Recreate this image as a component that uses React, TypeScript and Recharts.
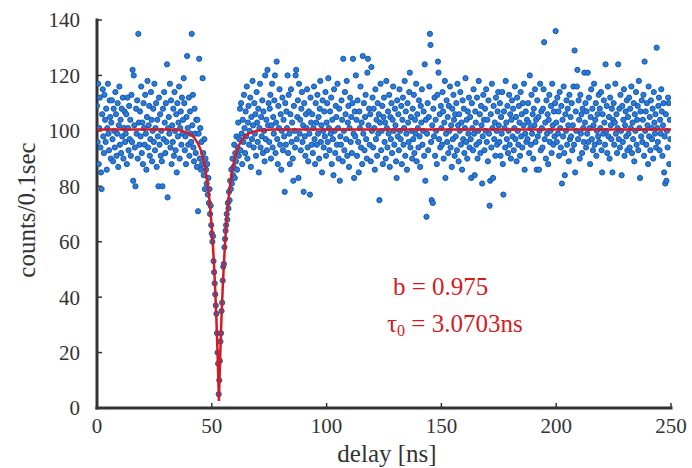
import React from "react";
import { ScatterChart, Scatter, XAxis, YAxis } from "recharts";

// measured counts, one bin every 0.25 ns starting at 0 ns
const DELAY_STEP = 0.25;
const COUNTS: number[] = [
  109, 96, 117, 88, 101, 112, 94, 85, 79, 106, 115, 98, 92, 113, 104, 96, 108, 86, 101, 117, 99, 93, 111, 105, 90,
  103, 111, 97, 89, 108, 100, 94, 114, 106, 91, 99, 110, 87, 102, 116, 95, 104, 92, 108, 98, 112, 90, 101, 107, 96,
  99, 106, 88, 112, 101, 93, 109, 97, 104, 91, 113, 96, 122, 82, 120, 102, 94, 80, 108, 99, 111, 90, 135, 103, 95,
  107, 98, 116, 92, 103, 88, 110, 101, 95, 113, 99, 86, 105, 118, 94, 102, 109, 91, 97, 114, 104, 89, 100, 108, 96,
  117, 93, 101, 110, 87, 104, 98, 80, 112, 95, 106, 91, 100, 89, 80, 108, 97, 114, 103, 92, 110, 96, 124, 76, 101,
  105, 99, 117, 94, 111, 88, 102, 96, 108, 91, 114, 100, 93, 106, 85, 110, 98, 103, 116, 90, 101, 107, 95, 112, 99,
  104, 119, 110, 93, 98, 88, 105, 127, 101, 95, 112, 91, 107, 99, 96, 135, 102, 113, 94, 89, 108, 99, 92, 104, 87,
  104, 71, 99, 126, 90, 101, 86, 96, 88, 119, 92, 84, 97, 79, 90, 86, 81, 88, 77, 83, 74, 79, 70, 73, 66,
  63, 60, 62, 53, 49, 45, 41, 37, 34, 27, 20, 16, 5, 10, 17, 24, 27, 35, 38, 46, 51, 52, 58, 61, 64,
  66, 70, 68, 74, 72, 78, 75, 82, 79, 86, 81, 90, 84, 87, 95, 83, 92, 89, 98, 86, 94, 103, 91, 97, 108,
  93, 110, 99, 88, 104, 96, 113, 101, 92, 107, 98, 116, 90, 103, 109, 95, 100, 112, 87, 105, 97, 118, 102, 94, 110,
  99, 106, 91, 114, 103, 96, 108, 85, 101, 117, 94, 105, 98, 111, 92, 107, 100, 89, 120, 97, 104, 93, 122, 102, 110,
  96, 108, 113, 90, 102, 117, 94, 105, 99, 111, 120, 92, 103, 125, 97, 88, 109, 101, 115, 95, 106, 86, 100, 112, 93,
  104, 98, 78, 110, 95, 107, 101, 120, 92, 113, 99, 88, 106, 115, 96, 103, 90, 82, 109, 100, 94, 120, 122, 97, 105,
  111, 83, 117, 99, 104, 93, 108, 114, 96, 102, 78, 110, 98, 91, 106, 101, 115, 94, 89, 107, 99, 77, 112, 103, 95,
  106, 92, 101, 116, 97, 88, 110, 103, 95, 113, 99, 105, 90, 108, 118, 96, 102, 85, 111, 100, 94, 107, 98, 114, 91,
  103, 110, 96, 119, 101, 93, 107, 99, 112, 88, 104, 97, 84, 115, 100, 92, 109, 105, 95, 117, 101, 90, 108, 82, 98,
  95, 111, 104, 89, 126, 100, 93, 114, 106, 97, 118, 91, 103, 109, 87, 101, 112, 96, 105, 92, 110, 126, 99, 83, 107,
  98, 120, 104, 91, 111, 96, 85, 107, 101, 116, 94, 103, 88, 127, 99, 110, 93, 105, 113, 97, 90, 121, 126, 102, 108,
  95, 106, 89, 123, 100, 112, 94, 108, 101, 86, 115, 97, 104, 91, 110, 99, 106, 75, 103, 117, 93, 100, 109, 88, 105,
  112, 96, 103, 90, 118, 101, 94, 107, 99, 113, 87, 105, 97, 110, 92, 104, 116, 100, 95, 108, 102, 89, 83, 111, 98,
  106, 93, 115, 100, 97, 109, 88, 104, 112, 95, 101, 118, 91, 107, 99, 86, 110, 103, 96, 114, 121, 94, 105, 100, 90,
  108, 97, 113, 92, 104, 99, 117, 89, 106, 101, 94, 111, 98, 87, 109, 103, 115, 95, 100, 107, 91, 124, 82, 104, 69,
  99, 110, 93, 105, 116, 135, 131, 96, 75, 102, 74, 108, 98, 112, 91, 104, 100, 88, 113, 125, 121, 97, 106, 94, 109,
  101, 95, 114, 107, 90, 103, 118, 83, 99, 111, 96, 105, 92, 109, 100, 116, 94, 102, 87, 108, 97, 113, 104, 91, 106,
  98, 110, 93, 117, 102, 89, 106, 100, 114, 95, 103, 86, 111, 97, 108, 92, 101, 119, 96, 104, 90, 107, 99, 112, 94,
  105, 97, 83, 110, 101, 93, 115, 99, 84, 107, 103, 95, 112, 90, 100, 118, 96, 106, 92, 109, 102, 81, 98, 113, 104,
  93, 108, 100, 115, 96, 104, 89, 111, 99, 73, 82, 106, 94, 117, 101, 83, 109, 97, 103, 91, 112, 100, 95, 107, 114,
  102, 96, 110, 91, 105, 99, 114, 88, 77, 107, 101, 94, 118, 103, 97, 109, 92, 100, 113, 95, 106, 90, 104, 111, 98,
  108, 93, 101, 116, 97, 105, 89, 112, 100, 95, 109, 103, 91, 114, 98, 106, 94, 110, 102, 117, 86, 99, 107, 96, 104,
  97, 110, 103, 92, 120, 101, 95, 113, 99, 106, 90, 108, 102, 115, 96, 104, 86, 111, 98, 105, 86, 100, 117, 93, 107,
  101, 94, 108, 115, 132, 97, 103, 90, 111, 99, 106, 88, 104, 113, 96, 100, 109, 92, 117, 102, 95, 107, 98, 110, 136,
  103, 96, 112, 99, 107, 91, 114, 101, 94, 109, 81, 104, 98, 116, 92, 84, 106, 100, 111, 95, 108, 102, 89, 113, 97,
  105, 98, 110, 93, 102, 116, 95, 129, 85, 107, 100, 116, 122, 97, 111, 104, 90, 113, 99, 106, 92, 108, 101, 96, 121,
  103, 110, 94, 107, 99, 121, 96, 112, 101, 88, 105, 115, 97, 108, 93, 102, 117, 95, 104, 110, 91, 100, 106, 98, 113,
  96, 108, 101, 114, 93, 85, 106, 99, 111, 103, 95, 124, 100, 109, 92, 116, 98, 105, 90, 112, 102, 97, 108, 85, 104,
  110, 95, 103, 117, 99, 106, 92, 101, 124, 97, 108, 94, 113, 100, 84, 109, 96, 104, 115, 91, 102, 107, 98, 111, 93,
  105, 99, 112, 94, 108, 101, 116, 92, 103, 97, 110, 89, 106, 100, 114, 95, 104, 109, 93, 118, 101, 83, 107, 98, 111,
  96, 104, 113, 91, 125, 100, 107, 95, 110, 102, 88, 116, 98, 105, 93, 111, 101, 97, 108, 90, 114, 103, 99, 106, 94,
  130, 101, 96, 109, 112, 93, 104, 99, 115, 107, 91, 102, 110, 85, 98, 81, 106, 82, 100, 94, 112, 110, 88, 104, 97,
];

// fitted curve
const FIT_DELAY = [
  0, 30, 36, 40, 42, 44, 45, 46, 47, 48, 48.5, 49, 49.5, 50, 50.5, 51, 51.5, 52, 52.5, 52.8,
  53.1, 53.4, 53.7, 54.2, 54.7, 55.2, 55.7, 56.2, 56.7, 57.2, 57.7, 58.2, 59.2, 60.2, 61.2,
  62.2, 64.2, 66.2, 70, 76, 250,
];
const FIT_COUNTS = [
  100.5, 100.5, 100.3, 99.1, 97.9, 95.4, 93.5, 90.8, 87.1, 81.9, 78.6, 74.8, 70.2, 64.8, 58.5,
  51.0, 42.3, 32.0, 19.9, 11.6, 2.5, 11.6, 19.9, 32.0, 42.3, 51.0, 58.5, 64.8, 70.2, 74.8,
  78.6, 81.9, 87.1, 90.8, 93.5, 95.4, 97.9, 99.1, 100.1, 100.5, 100.5,
];

const X_TICKS = [0, 50, 100, 150, 200, 250];
const Y_TICKS = [0, 20, 40, 60, 80, 100, 120, 140];

const points = COUNTS.map((c, i) => ({ x: i * DELAY_STEP, y: c }));
const fit = FIT_DELAY.map((d, i) => ({ x: d, y: FIT_COUNTS[i] }));

const FONT = "'Liberation Serif', 'DejaVu Serif', 'Times New Roman', serif";
const FRAME = "#333333";
const RED = "#d61a22";

const tickStyle = { fill: FRAME, fontSize: 21, fontFamily: FONT, style: { fontFamily: FONT } };
const axisLine = { stroke: FRAME, strokeWidth: 3, strokeLinecap: "square" as const };
const tickLine = { stroke: FRAME, strokeWidth: 1.5 };

const Dot = (props: any) => (
  <circle cx={props.cx} cy={props.cy} r={2.6} fill="#2b7bd9" stroke="#1557b0" strokeWidth={1} />
);
const NoDot = () => <g />;

export default function App() {
  return (
    <div style={{ position: "absolute", left: 0, top: 0, width: 692, height: 468, background: "#fff", fontFamily: FONT }}>
      <ScatterChart width={692} height={468} margin={{ top: 20, right: 21, bottom: 20, left: 37 }} style={{ fontFamily: FONT }}>
        <XAxis
          type="number"
          dataKey="x"
          domain={[0, 250]}
          ticks={X_TICKS}
          height={40}
          tickSize={-5}
          tickMargin={15.5}
          axisLine={axisLine}
          tickLine={tickLine}
          tick={tickStyle}
          allowDataOverflow
        />
        <XAxis
          xAxisId="top"
          orientation="top"
          type="number"
          domain={[0, 250]}
          ticks={X_TICKS}
          height={0}
          tickSize={-5}
          axisLine={axisLine}
          tickLine={tickLine}
          tick={false}
        />
        <YAxis
          type="number"
          dataKey="y"
          domain={[0, 140]}
          ticks={Y_TICKS}
          width={60}
          tickSize={-5}
          tickMargin={22}
          axisLine={axisLine}
          tickLine={tickLine}
          tick={tickStyle}
          allowDataOverflow
        />
        <YAxis
          yAxisId="right"
          orientation="right"
          type="number"
          domain={[0, 140]}
          ticks={Y_TICKS}
          width={0}
          tickSize={-5}
          axisLine={axisLine}
          tickLine={tickLine}
          tick={false}
        />
        <Scatter data={points} shape={<Dot />} isAnimationActive={false} />
        <Scatter
          data={fit}
          shape={<NoDot />}
          line={{ stroke: RED, strokeWidth: 2.5 }}
          lineType="joint"
          isAnimationActive={false}
        />
      </ScatterChart>

      <div
        style={{
          position: "absolute", left: 26, top: 210, transform: "translate(-50%, -50%) rotate(-90deg)",
          fontSize: 25, lineHeight: 1, color: FRAME, whiteSpace: "nowrap",
        }}
      >
        counts/0.1sec
      </div>
      <div
        style={{
          position: "absolute", left: 387, top: 441, transform: "translateX(-50%)",
          fontSize: 25, lineHeight: 1, color: FRAME, whiteSpace: "nowrap",
        }}
      >
        delay [ns]
      </div>
      <div style={{ position: "absolute", left: 393, top: 274, fontSize: 25, lineHeight: 1, color: RED, whiteSpace: "nowrap" }}>
        b = 0.975
      </div>
      <div style={{ position: "absolute", left: 387, top: 311, fontSize: 25, lineHeight: 1, color: RED, whiteSpace: "nowrap" }}>
        τ<sub style={{ fontSize: 16, verticalAlign: "-4px" }}>0</sub> = 3.0703ns
      </div>
    </div>
  );
}
